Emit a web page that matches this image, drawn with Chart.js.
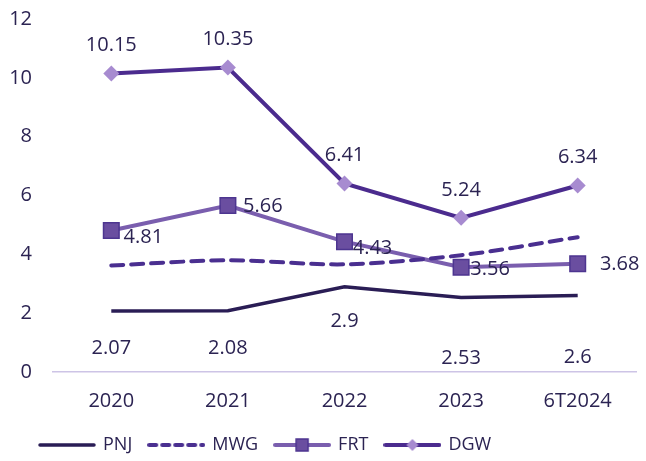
<!DOCTYPE html>
<html>
<head>
<meta charset="utf-8">
<script src="https://cdn.jsdelivr.net/npm/chart.js@4.4.1/dist/chart.umd.min.js"></script>
<style>
  html, body { margin: 0; padding: 0; background: #fff; }
  #wrap { width: 646px; height: 461px; }
</style>
</head>
<body>
<div id="wrap"><canvas id="lineChart"></canvas></div>
<script>
// chart data
const years = ["2020", "2021", "2022", "2023", "6T2024"];
const pnj = [2.07, 2.08, 2.9, 2.53, 2.6];
const mwg = [3.62, 3.8, 3.66, 3.97, 4.58];
const frt = [4.81, 5.66, 4.43, 3.56, 3.68];
const dgw = [10.15, 10.35, 6.41, 5.24, 6.34];
const yTicks = [0, 2, 4, 6, 8, 10, 12];

const textColor = "#2b2352";
const fontFamily = "'Open Sans', sans-serif";
const fontSize = 20;

// little pictures for the legend: line + marker
function legendIcon(color, width, dash, marker, fill, border) {
  const c = document.createElement("canvas");
  c.width = 58;
  c.height = 16;
  const ctx = c.getContext("2d");
  ctx.strokeStyle = color;
  ctx.lineWidth = width;
  ctx.lineCap = "round";
  ctx.setLineDash(dash);
  ctx.beginPath();
  ctx.moveTo(2, 8);
  ctx.lineTo(56, 8);
  ctx.stroke();
  ctx.setLineDash([]);
  if (marker === "square") {
    ctx.fillStyle = fill;
    ctx.strokeStyle = border;
    ctx.lineWidth = 1.5;
    ctx.fillRect(23, 2, 12, 12);
    ctx.strokeRect(23, 2, 12, 12);
  } else if (marker === "diamond") {
    ctx.fillStyle = fill;
    ctx.beginPath();
    ctx.moveTo(29, 2);
    ctx.lineTo(35, 8);
    ctx.lineTo(29, 14);
    ctx.lineTo(23, 8);
    ctx.closePath();
    ctx.fill();
  }
  return c;
}

// offsets of the value labels, per point
const labelPos = {
  0: { dx: [0, 0, 0, 0, 0], dy: [37, 37, 35, 61, 62] },
  2: { dx: [32, 35, 28, 29, 42], dy: [7, 1, 7, 2, 1] },
  3: { dx: [0, 0, 0, 0, 0], dy: [-28, -28, -28, -28, -28] },
};

const valueLabels = {
  id: "valueLabels",
  afterDatasetsDraw(chart) {
    const ctx = chart.ctx;
    ctx.save();
    ctx.font = fontSize + "px " + fontFamily;
    ctx.fillStyle = textColor;
    ctx.textBaseline = "middle";
    ctx.textAlign = "center";
    Object.keys(labelPos).forEach((i) => {
      const pos = labelPos[i];
      const meta = chart.getDatasetMeta(i);
      const values = chart.data.datasets[i].data;
      meta.data.forEach((pt, j) => {
        ctx.fillText(String(values[j]), pt.x + pos.dx[j], pt.y + pos.dy[j]);
      });
    });
    ctx.restore();
  },
};

// put the legend where it sits in the original
const legendShift = {
  id: "legendShift",
  beforeDraw(chart) {
    chart.legend.left = 23;
  },
};

const config = {
  type: "line",
  data: {
    labels: years,
    datasets: [
      {
        label: "PNJ",
        data: pnj,
        borderColor: "#2a1d55",
        borderWidth: 3.5,
        pointRadius: 0,
        tension: 0,
        pointStyle: legendIcon("#2a1d55", 3.5, [], null),
      },
      {
        label: "MWG",
        data: mwg,
        borderColor: "#4a2f90",
        borderWidth: 4,
        borderDash: [12, 8],
        borderCapStyle: "round",
        pointRadius: 0,
        tension: 0.3,
        pointStyle: legendIcon("#4a2f90", 4, [7, 6], null),
      },
      {
        label: "FRT",
        data: frt,
        borderColor: "#7a5eae",
        borderWidth: 4,
        pointStyle: "rect",
        pointRadius: 11,
        pointBackgroundColor: "#6a4ea0",
        pointBorderColor: "#4d3590",
        pointBorderWidth: 1.5,
        tension: 0,
      },
      {
        label: "DGW",
        data: dgw,
        borderColor: "#4b2b8e",
        borderWidth: 4,
        pointStyle: "rectRot",
        pointRadius: 8,
        pointBackgroundColor: "#a78bd0",
        pointBorderColor: "#a78bd0",
        pointBorderWidth: 0,
        tension: 0,
      },
    ],
  },
  options: {
    responsive: true,
    maintainAspectRatio: false,
    animation: false,
    layout: { autoPadding: false, padding: { left: 8, right: 10, top: 19, bottom: -3 } },
    scales: {
      x: {
        offset: true,
        grid: { display: false, drawTicks: false },
        border: { display: true, color: "#cdc4e6", width: 1.5 },
        ticks: { color: textColor, font: { size: fontSize, family: fontFamily }, padding: 17 },
        afterFit(axis) {
          axis.paddingLeft = 0;
          axis.paddingRight = 0;
          axis.height -= 11;
        },
      },
      y: {
        min: 0,
        max: 12,
        afterBuildTicks(axis) {
          axis.ticks = yTicks.map((v) => ({ value: v }));
        },
        afterFit(axis) {
          axis.width = 45;
          axis.paddingTop = 0;
          axis.paddingBottom = 0;
        },
        grid: { display: false, drawTicks: false },
        border: { display: false },
        ticks: { color: textColor, font: { size: fontSize, family: fontFamily }, padding: 21 },
      },
    },
    plugins: {
      tooltip: { enabled: false },
      legend: {
        position: "bottom",
        align: "start",
        labels: {
          usePointStyle: true,
          pointStyleWidth: 54,
          padding: 17,
          color: textColor,
          font: { size: 18, family: fontFamily },
          generateLabels(chart) {
            const icons = [
              chart.data.datasets[0].pointStyle,
              chart.data.datasets[1].pointStyle,
              legendIcon("#7a5eae", 4, [], "square", "#6a4ea0", "#4d3590"),
              legendIcon("#4b2b8e", 4, [], "diamond", "#a78bd0"),
            ];
            return chart.data.datasets.map((ds, i) => ({
              text: ds.label,
              pointStyle: icons[i],
              fontColor: textColor,
              datasetIndex: i,
              hidden: false,
              lineWidth: 0,
            }));
          },
        },
      },
    },
  },
  plugins: [valueLabels, legendShift],
};

new Chart(document.getElementById("lineChart"), config);
</script>
</body>
</html>
